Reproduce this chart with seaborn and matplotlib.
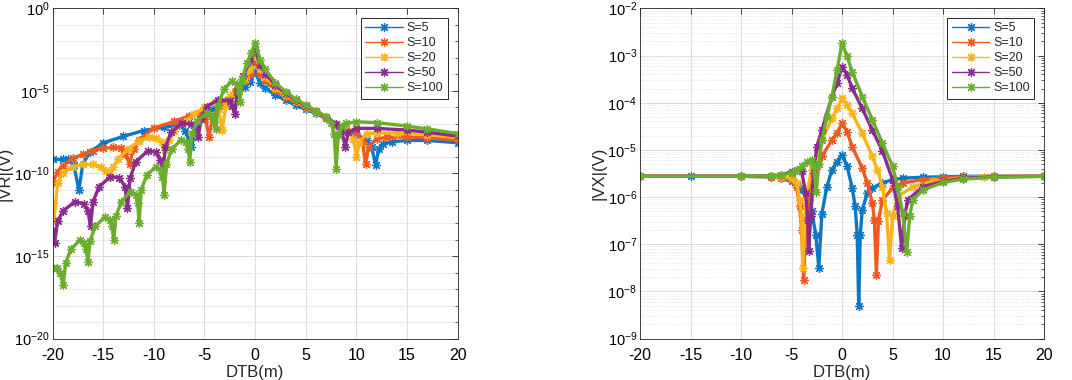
import numpy as np
import pandas as pd
import matplotlib
matplotlib.use("Agg")
import matplotlib.pyplot as plt
from matplotlib.ticker import FixedLocator, LogLocator, NullFormatter, NullLocator
import seaborn as sns

OUTPUT_PATH = "out.png"

LABELS = ["S=5", "S=10", "S=20", "S=50", "S=100"]
COLORS = ["#0b78c6", "#ee5a1f", "#fbb31a", "#8a2c8d", "#6cad2e"]

# ---- |VR| : DTB (m) and log10(|VR|) ----
vr_x_s5 = [-20, -19, -18.5, -17.9, -17.4, -17.0, -16.3, -15, -13, -11, -9, -7.5, -6.9, -6.3,
           -5.8, -5, -4, -3, -2, -1, -0.5, 0, 0.5, 1, 2, 3, 4, 5, 6, 7, 8, 9, 10, 11, 11.5,
           11.9, 12.2, 12.6, 13.5, 15, 17, 20]
vr_e_s5 = [-9.15, -9.15, -9.15, -9.5, -11.0, -9.4, -8.7, -8.15, -7.75, -7.4, -7.2, -7.07, -7.4, -8.4,
           -7.2, -6.45, -6.05, -5.65, -5.25, -4.75, -4.45, -3.84, -4.55, -4.85, -5.25, -5.56, -5.86,
           -6.12, -6.36, -6.67, -7.07, -7.4, -7.65, -7.95, -8.4, -9.5, -8.5, -8.2, -8.08, -8.0, -8.0,
           -8.14]

vr_x_s10 = [-20, -19.5, -19, -18, -17, -16, -15, -14, -13.2, -12.8, -12.4, -12.0, -11.5, -10, -8,
            -6.5, -5.5, -4.9, -4.55, -4.2, -3.5, -3, -2, -1, -0.5, 0, 0.5, 1, 2, 3, 4, 5, 6, 7, 8,
            9, 10, 10.6, 10.9, 11.2, 12, 13, 15, 17, 20]
vr_e_s10 = [-10.57, -9.9, -9.54, -9.09, -8.83, -8.63, -8.48, -8.42, -8.48, -8.8, -9.43, -8.5, -7.98,
            -7.25, -6.85, -6.5, -6.35, -6.7, -7.78, -6.6, -5.9, -5.6, -5.05, -4.4, -3.95, -3.2, -4.0,
            -4.4, -4.95, -5.35, -5.7, -6.02, -6.3, -6.62, -7.05, -7.3, -7.55, -8.1, -9.4, -8.4, -7.9,
            -7.82, -7.78, -7.85, -7.98]

vr_x_s20 = [-20, -19.85, -19.5, -19, -18, -17, -16, -15.2, -14.7, -14.35, -14.0, -13.5, -12.5,
            -11.5, -10.5, -9.8, -9.2, -8.85, -8.5, -8, -7, -6, -5, -4, -3.6, -3.25, -2.9, -2.5, -2,
            -1, -0.5, 0, 0.5, 1, 2, 3, 4, 5, 6, 7, 8, 9, 9.7, 10.0, 10.3, 11, 12, 14, 17, 20]
vr_e_s20 = [-11.8, -12.8, -10.6, -10.0, -9.6, -9.45, -9.45, -9.6, -9.85, -10.2, -9.6, -9.1, -8.5,
            -8.05, -7.8, -7.85, -8.1, -8.6, -8.0, -7.45, -6.9, -6.4, -6.0, -5.7, -6.1, -7.37, -5.9,
            -5.3, -5.0, -4.3, -3.7, -2.8, -3.7, -4.15, -4.8, -5.25, -5.62, -5.95, -6.27, -6.6, -7.0,
            -7.25, -7.9, -9.0, -8.1, -7.6, -7.54, -7.55, -7.65, -7.82]

vr_x_s50 = [-20, -19.8, -19.5, -19.0, -17.8, -16.9, -16.5, -16.25, -16.0, -15.4, -14.3, -13.4,
            -12.85, -12.6, -12.35, -11.8, -10.6, -9.8, -9.35, -9.1, -8.85, -8.3, -7.2, -6.3, -5.85,
            -5.6, -5.35, -4.8, -3.7, -2.5, -2.25, -2.0, -1.75, -1.2, -0.5, 0, 0.5, 1, 2, 3, 4, 5,
            6, 7, 8, 8.5, 8.9, 9.2, 10, 12, 15, 17, 20]
vr_e_s50 = [-13.4, -14.2, -12.9, -12.3, -11.7, -11.85, -12.3, -13.2, -11.7, -10.8, -10.2, -10.25,
            -10.8, -12.1, -10.3, -9.3, -8.63, -8.7, -9.2, -9.8, -8.4, -7.5, -6.97, -7.0, -7.3, -7.8,
            -6.7, -5.95, -5.56, -5.6, -5.9, -6.4, -5.0, -4.1, -3.2, -2.5, -3.45, -3.95, -4.65,
            -5.15, -5.55, -5.9, -6.24, -6.58, -6.98, -7.3, -8.38, -7.5, -7.27, -7.27, -7.37, -7.5,
            -7.74]

vr_x_s100 = [-20, -19.6, -19.25, -18.95, -18.7, -18.2, -17.3, -16.9, -16.7, -16.5, -16.3, -15.8,
             -14.8, -14.3, -14.15, -13.95, -13.75, -13.2, -12.3, -11.8, -11.6, -11.45, -11.25,
             -10.7, -9.8, -9.3, -9.15, -8.98, -8.75, -8.2, -7.3, -6.8, -6.6, -6.46, -6.25, -5.7,
             -4.8, -4.3, -4.05, -3.9, -3.65, -3.1, -2.3, -1.8, -1.6, -1.5, -1.3, -0.8, -0.4, 0, 0.5,
             1, 2, 3, 4, 5, 6, 7, 7.5, 7.8, 8.0, 8.2, 8.6, 9, 10, 12, 15, 17, 20]
vr_e_s100 = [-15.75, -15.7, -16.0, -16.77, -15.4, -14.6, -14.04, -14.2, -14.6, -15.35, -14.1,
             -13.2, -12.63, -12.8, -13.2, -14.0, -12.6, -11.7, -11.1, -11.3, -11.8, -13.0, -11.0,
             -10.1, -9.6, -9.8, -10.2, -11.3, -9.4, -8.5, -7.98, -8.1, -8.5, -9.3, -7.6, -6.8,
             -6.36, -6.5, -6.9, -7.33, -5.9, -4.9, -4.4, -4.6, -5.0, -5.66, -4.3, -3.3, -2.7, -2.1,
             -3.1, -3.7, -4.5, -5.05, -5.48, -5.85, -6.2, -6.55, -6.95, -7.6, -9.7, -7.7, -7.1,
             -6.97, -6.87, -6.92, -7.13, -7.3, -7.58]

# ---- |VX| : DTB (m) and log10(|VX|) ----
vx_x_s5 = [-20, -15, -10, -7, -6, -5, -4.5, -4, -3.5, -3, -2.6, -2.3, -2.0, -1.5, -1, -0.5, 0,
           0.5, 1, 1.3, 1.5, 1.65, 1.8, 2, 2.5, 3, 4, 5, 6, 8, 10, 12, 15, 20]
vx_e_s5 = [-5.56, -5.56, -5.56, -5.57, -5.6, -5.67, -5.75, -5.85, -6.0, -6.3, -6.8, -7.5, -6.35,
           -5.78, -5.42, -5.25, -5.1, -5.35, -5.8, -6.2, -6.8, -8.3, -6.8, -6.27, -5.92, -5.81,
           -5.7, -5.63, -5.6, -5.58, -5.57, -5.56, -5.56, -5.56]

vx_x_s10 = [-20, -10, -7, -6, -5, -4.5, -4.2, -4, -3.8, -3.6, -3.3, -3, -2.5, -2, -1, -0.5, 0,
            0.5, 1, 2, 2.5, 3, 3.2, 3.4, 3.6, 4, 5, 6, 8, 10, 12, 15, 20]
vx_e_s10 = [-5.56, -5.56, -5.57, -5.59, -5.63, -5.78, -6.2, -6.69, -7.75, -6.7, -6.06, -5.63,
            -5.35, -5.14, -4.79, -4.65, -4.43, -4.62, -4.93, -5.39, -5.7, -6.13, -6.48, -7.65,
            -6.5, -6.06, -5.81, -5.7, -5.63, -5.6, -5.57, -5.56, -5.56]

vx_x_s20 = [-20, -10, -7, -6, -5, -4.5, -4.2, -4, -3.9, -3.7, -3.5, -3, -2, -1, -0.5, 0, 0.5, 1,
            2, 3, 3.5, 4, 4.4, 4.7, 5, 5.5, 7, 9, 12, 14, 20]
vx_e_s20 = [-5.56, -5.56, -5.56, -5.58, -5.6, -5.7, -6.06, -6.41, -7.5, -6.6, -5.92, -5.42, -4.79,
            -4.33, -4.12, -3.91, -4.05, -4.22, -4.65, -5.14, -5.42, -5.78, -6.34, -7.33, -6.41,
            -5.99, -5.78, -5.67, -5.59, -5.57, -5.56]

vx_x_s50 = [-20, -10, -7, -6, -5, -4.5, -4, -3.6, -3.4, -3.3, -3.1, -2.8, -2.5, -2, -1, -0.5, 0,
            0.5, 1, 2, 3, 4, 5, 5.5, 5.9, 6.2, 6.5, 8, 10, 12, 15, 20]
vx_e_s50 = [-5.56, -5.56, -5.55, -5.53, -5.46, -5.42, -5.45, -5.92, -6.48, -7.15, -6.4, -5.49,
            -4.93, -4.58, -3.87, -3.59, -3.24, -3.41, -3.69, -4.12, -4.58, -5.03, -5.63, -6.2,
            -7.08, -6.4, -6.06, -5.78, -5.67, -5.6, -5.57, -5.56]

vx_x_s100 = [-20, -10, -7, -6, -5, -4.5, -4, -3.5, -3, -2.8, -2.55, -2.3, -2, -1.5, -1, -0.5, 0,
             0.5, 1, 2, 3, 4, 5, 5.5, 6, 6.4, 6.7, 7, 8, 10, 12, 15, 20]
vx_e_s100 = [-5.56, -5.56, -5.55, -5.53, -5.49, -5.42, -5.35, -5.25, -5.21, -5.35, -5.9, -5.3,
             -4.79, -4.3, -3.87, -3.31, -2.74, -3.02, -3.34, -3.87, -4.36, -4.86, -5.35, -5.78,
             -6.34, -7.16, -6.4, -6.06, -5.85, -5.69, -5.62, -5.58, -5.56]

VR_SERIES = [(vr_x_s5, vr_e_s5), (vr_x_s10, vr_e_s10), (vr_x_s20, vr_e_s20),
             (vr_x_s50, vr_e_s50), (vr_x_s100, vr_e_s100)]
VX_SERIES = [(vx_x_s5, vx_e_s5), (vx_x_s10, vx_e_s10), (vx_x_s20, vx_e_s20),
             (vx_x_s50, vx_e_s50), (vx_x_s100, vx_e_s100)]

X_TICKS = [-20, -15, -10, -5, 0, 5, 10, 15, 20]


def draw_panel(ax, series, ylabel, dec_lo, dec_hi, major_step):
    for (xs, es), lab, col in zip(series, LABELS, COLORS):
        df = pd.DataFrame({"DTB": xs, "V": 10.0 ** np.array(es)})
        sns.lineplot(data=df, x="DTB", y="V", ax=ax, color=col, label=lab,
                     estimator=None, errorbar=None, linewidth=2.4,
                     marker=(8, 2, 0), markersize=6.5,
                     markeredgecolor=col, markeredgewidth=0.9)

    ax.set_yscale("log")
    ax.set_xlim(-20, 20)
    ax.set_ylim(10.0 ** dec_lo, 10.0 ** dec_hi)
    ax.set_xticks(X_TICKS)
    ax.set_xticklabels([str(t) for t in X_TICKS])
    ax.xaxis.set_minor_locator(NullLocator())

    majors = [10.0 ** d for d in range(dec_lo, dec_hi + 1, major_step)]
    ax.yaxis.set_major_locator(FixedLocator(majors))
    if major_step > 1:
        ax.yaxis.set_minor_locator(FixedLocator([10.0 ** d for d in range(dec_lo, dec_hi + 1)]))
    else:
        ax.yaxis.set_minor_locator(LogLocator(base=10, subs=np.arange(2, 10), numticks=50))
    ax.yaxis.set_minor_formatter(NullFormatter())

    ax.set_axisbelow(True)
    ax.grid(True, which="major", color="#dcdcdc", linewidth=0.7)
    if major_step > 1:
        ax.grid(True, which="minor", axis="y", color="#e8e8e8", linewidth=0.6)
    else:
        ax.grid(True, which="minor", axis="y", color="#d8d8d8", linewidth=0.5, linestyle=":")

    ax.tick_params(which="both", direction="in", top=True, right=True,
                   colors="#262626", labelcolor="black")
    ax.tick_params(which="major", length=4, width=0.6)
    ax.tick_params(which="minor", length=2.5, width=0.5)
    ax.tick_params(axis="x", pad=7, labelsize=11.5)
    ax.tick_params(axis="y", pad=2, labelsize=10.5)
    for sp in ax.spines.values():
        sp.set_color("#262626")
        sp.set_linewidth(0.6)

    ax.set_xlabel("DTB(m)", fontsize=12, labelpad=1)
    ax.set_ylabel(ylabel, fontsize=12, labelpad=1)

    leg = ax.legend(loc="upper right", bbox_to_anchor=(0.975, 0.972), fontsize=9,
                    frameon=True, fancybox=False, edgecolor="#262626", framealpha=1,
                    handlelength=3.0, handletextpad=0.3, labelspacing=0.25,
                    borderpad=0.35, borderaxespad=0, numpoints=1)
    leg.get_frame().set_linewidth(0.7)
    for h in leg.get_lines():
        h.set_linewidth(1.0)


def main():
    sns.set_style("white")
    plt.rcParams["font.family"] = ["Liberation Sans", "DejaVu Sans"]
    plt.rcParams["mathtext.fontset"] = "custom"
    plt.rcParams["mathtext.rm"] = "Liberation Sans"
    plt.rcParams["mathtext.it"] = "Liberation Sans:italic"

    fig = plt.figure(figsize=(10.72, 3.8), dpi=100)
    ax1 = fig.add_axes([0.049, 0.109, 0.378, 0.869])
    ax2 = fig.add_axes([0.597, 0.109, 0.377, 0.869])

    draw_panel(ax1, VR_SERIES, "|VR|(V)", -20, 0, 5)
    draw_panel(ax2, VX_SERIES, "|VX|(V)", -9, -2, 1)

    fig.savefig(OUTPUT_PATH, dpi=100)
    plt.close(fig)


if __name__ == "__main__":
    main()
